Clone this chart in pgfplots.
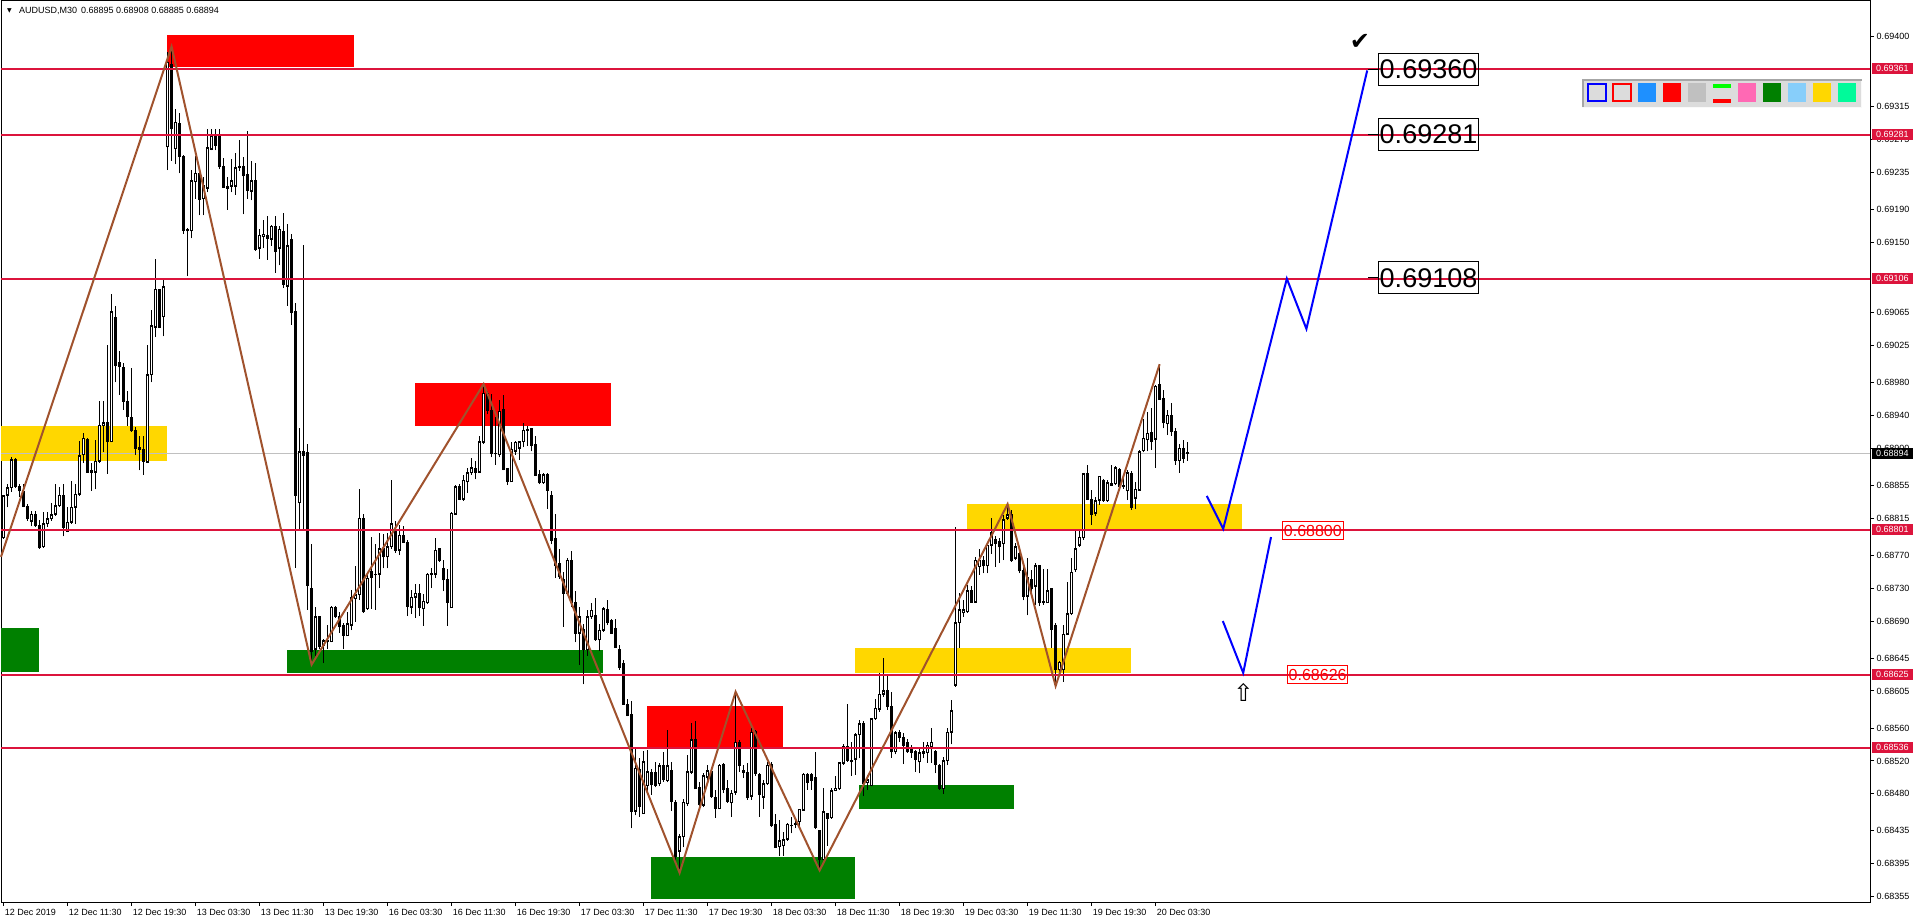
\documentclass[border=0pt]{standalone}
\usepackage{pgfplots}
\pgfplotsset{compat=1.18}
\usepackage{pgfplotstable}
\usepackage{fontspec}
\setmainfont{Liberation Sans}
\newfontfamily\dejavu{DejaVu Sans}
\definecolor{crimson}{RGB}{220,20,60}
\definecolor{sienna}{RGB}{160,82,45}
\definecolor{gold}{RGB}{255,215,0}
\definecolor{mtgreen}{RGB}{0,128,0}
\definecolor{mtred}{RGB}{255,0,0}
\definecolor{mtblue}{RGB}{0,0,255}
\definecolor{silver}{RGB}{192,192,192}
\definecolor{dodger}{RGB}{30,144,255}
\definecolor{hotpink}{RGB}{255,105,180}
\definecolor{skyblue}{RGB}{135,206,250}
\definecolor{springgreen}{RGB}{0,250,154}
\definecolor{mtlime}{RGB}{0,255,0}
\definecolor{panel}{RGB}{220,220,220}
\newcommand{\tf}{\fontsize{9bp}{10bp}\selectfont}

\pgfplotstableread{
k O H L C
0 0.68791 0.68843 0.68790 0.68842
1 0.68843 0.68856 0.68828 0.68852
2 0.68852 0.68889 0.68847 0.68886
3 0.68886 0.68888 0.68852 0.68854
4 0.68854 0.68856 0.68841 0.68848
5 0.68848 0.68856 0.68828 0.68829
6 0.68829 0.68832 0.68812 0.68814
7 0.68811 0.68824 0.68805 0.68820
8 0.68820 0.68824 0.68804 0.68806
9 0.68806 0.68813 0.68778 0.68779
10 0.68780 0.68822 0.68779 0.68808
11 0.68808 0.68822 0.68804 0.68814
12 0.68814 0.68834 0.68812 0.68819
13 0.68820 0.68856 0.68818 0.68830
14 0.68830 0.68853 0.68829 0.68843
15 0.68843 0.68856 0.68793 0.68804
16 0.68799 0.68828 0.68798 0.68810
17 0.68810 0.68860 0.68808 0.68828
18 0.68828 0.68856 0.68808 0.68844
19 0.68844 0.68909 0.68842 0.68891
20 0.68892 0.68919 0.68882 0.68912
21 0.68911 0.68912 0.68871 0.68871
22 0.68873 0.68882 0.68848 0.68871
23 0.68871 0.68910 0.68850 0.68884
24 0.68884 0.68957 0.68882 0.68928
25 0.68928 0.68957 0.68895 0.68931
26 0.68931 0.69025 0.68869 0.68908
27 0.68908 0.69087 0.68907 0.69066
28 0.69059 0.69073 0.68980 0.69000
29 0.69004 0.69018 0.68965 0.68999
30 0.68998 0.69004 0.68947 0.68957
31 0.68957 0.68969 0.68927 0.68938
32 0.68937 0.68997 0.68920 0.68921
33 0.68921 0.68926 0.68892 0.68900
34 0.68901 0.68915 0.68873 0.68899
35 0.68898 0.68915 0.68868 0.68884
36 0.68883 0.69025 0.68882 0.68989
37 0.68989 0.69068 0.68980 0.69049
38 0.69047 0.69130 0.69035 0.69093
39 0.69093 0.69094 0.69046 0.69047
40 0.69060 0.69106 0.69036 0.69096
41 0.69266 0.69381 0.69238 0.69369
42 0.69366 0.69388 0.69249 0.69288
43 0.69264 0.69312 0.69245 0.69296
44 0.69294 0.69307 0.69234 0.69255
45 0.69255 0.69256 0.69160 0.69165
46 0.69166 0.69167 0.69109 0.69164
47 0.69164 0.69238 0.69155 0.69225
48 0.69224 0.69255 0.69203 0.69234
49 0.69234 0.69235 0.69183 0.69202
50 0.69203 0.69229 0.69183 0.69219
51 0.69216 0.69288 0.69211 0.69265
52 0.69263 0.69288 0.69262 0.69279
53 0.69281 0.69288 0.69262 0.69268
54 0.69279 0.69288 0.69239 0.69242
55 0.69242 0.69253 0.69216 0.69217
56 0.69218 0.69229 0.69190 0.69216
57 0.69218 0.69251 0.69211 0.69225
58 0.69218 0.69259 0.69208 0.69241
59 0.69242 0.69275 0.69237 0.69241
60 0.69242 0.69254 0.69184 0.69231
61 0.69232 0.69285 0.69203 0.69213
62 0.69212 0.69249 0.69201 0.69225
63 0.69225 0.69247 0.69140 0.69142
64 0.69143 0.69166 0.69130 0.69159
65 0.69157 0.69177 0.69143 0.69160
66 0.69159 0.69182 0.69129 0.69155
67 0.69154 0.69171 0.69146 0.69170
68 0.69170 0.69182 0.69113 0.69139
69 0.69143 0.69170 0.69122 0.69166
70 0.69163 0.69186 0.69095 0.69099
71 0.69097 0.69172 0.69073 0.69146
72 0.69153 0.69160 0.69050 0.69065
73 0.69066 0.69077 0.68755 0.68843
74 0.68834 0.68925 0.68800 0.68896
75 0.68896 0.69147 0.68800 0.68891
76 0.68895 0.68905 0.68704 0.68733
77 0.68729 0.68784 0.68637 0.68653
78 0.68656 0.68707 0.68648 0.68695
79 0.68695 0.68696 0.68656 0.68659
80 0.68660 0.68668 0.68639 0.68666
81 0.68665 0.68685 0.68656 0.68666
82 0.68665 0.68708 0.68664 0.68707
83 0.68707 0.68708 0.68694 0.68695
84 0.68695 0.68701 0.68676 0.68683
85 0.68685 0.68687 0.68656 0.68673
86 0.68672 0.68701 0.68672 0.68687
87 0.68685 0.68728 0.68679 0.68718
88 0.68717 0.68757 0.68689 0.68722
89 0.68722 0.68851 0.68716 0.68815
90 0.68815 0.68820 0.68700 0.68701
91 0.68705 0.68747 0.68704 0.68742
92 0.68750 0.68792 0.68705 0.68743
93 0.68746 0.68783 0.68704 0.68747
94 0.68747 0.68797 0.68730 0.68778
95 0.68778 0.68796 0.68754 0.68768
96 0.68768 0.68797 0.68754 0.68780
97 0.68780 0.68861 0.68778 0.68808
98 0.68800 0.68812 0.68773 0.68776
99 0.68776 0.68807 0.68770 0.68794
100 0.68794 0.68805 0.68785 0.68786
101 0.68786 0.68788 0.68696 0.68708
102 0.68707 0.68728 0.68699 0.68719
103 0.68719 0.68735 0.68694 0.68724
104 0.68724 0.68735 0.68696 0.68706
105 0.68705 0.68723 0.68684 0.68714
106 0.68712 0.68748 0.68711 0.68747
107 0.68746 0.68754 0.68730 0.68748
108 0.68747 0.68791 0.68742 0.68776
109 0.68778 0.68779 0.68762 0.68764
110 0.68754 0.68764 0.68726 0.68740
111 0.68741 0.68753 0.68684 0.68713
112 0.68706 0.68822 0.68706 0.68821
113 0.68820 0.68855 0.68819 0.68853
114 0.68853 0.68857 0.68837 0.68838
115 0.68838 0.68867 0.68836 0.68861
116 0.68859 0.68876 0.68846 0.68870
117 0.68870 0.68888 0.68868 0.68876
118 0.68875 0.68884 0.68862 0.68871
119 0.68871 0.68915 0.68870 0.68908
120 0.68907 0.68978 0.68905 0.68967
121 0.68967 0.68970 0.68941 0.68946
122 0.68946 0.68966 0.68889 0.68894
123 0.68894 0.68938 0.68880 0.68893
124 0.68892 0.68958 0.68889 0.68945
125 0.68947 0.68965 0.68873 0.68874
126 0.68875 0.68876 0.68855 0.68860
127 0.68859 0.68907 0.68859 0.68899
128 0.68896 0.68909 0.68892 0.68907
129 0.68900 0.68909 0.68886 0.68908
130 0.68908 0.68931 0.68901 0.68922
131 0.68922 0.68927 0.68903 0.68923
132 0.68924 0.68925 0.68896 0.68903
133 0.68905 0.68915 0.68866 0.68867
134 0.68868 0.68874 0.68856 0.68858
135 0.68858 0.68870 0.68857 0.68868
136 0.68868 0.68870 0.68826 0.68849
137 0.68843 0.68848 0.68783 0.68788
138 0.68790 0.68820 0.68742 0.68757
139 0.68760 0.68777 0.68741 0.68744
140 0.68741 0.68749 0.68683 0.68724
141 0.68724 0.68766 0.68722 0.68764
142 0.68763 0.68775 0.68707 0.68712
143 0.68712 0.68727 0.68664 0.68675
144 0.68675 0.68707 0.68637 0.68695
145 0.68680 0.68687 0.68613 0.68655
146 0.68655 0.68703 0.68648 0.68695
147 0.68695 0.68712 0.68693 0.68703
148 0.68697 0.68718 0.68666 0.68668
149 0.68667 0.68686 0.68654 0.68679
150 0.68679 0.68707 0.68677 0.68705
151 0.68704 0.68716 0.68685 0.68688
152 0.68691 0.68693 0.68674 0.68675
153 0.68681 0.68693 0.68657 0.68658
154 0.68656 0.68661 0.68631 0.68634
155 0.68638 0.68643 0.68588 0.68589
156 0.68589 0.68595 0.68574 0.68575
157 0.68577 0.68593 0.68438 0.68459
158 0.68459 0.68535 0.68454 0.68511
159 0.68510 0.68523 0.68452 0.68465
160 0.68456 0.68532 0.68456 0.68519
161 0.68490 0.68533 0.68479 0.68507
162 0.68506 0.68510 0.68479 0.68491
163 0.68506 0.68519 0.68488 0.68490
164 0.68492 0.68518 0.68489 0.68514
165 0.68515 0.68531 0.68495 0.68498
166 0.68496 0.68558 0.68494 0.68514
167 0.68508 0.68519 0.68459 0.68471
168 0.68470 0.68473 0.68393 0.68404
169 0.68410 0.68431 0.68384 0.68428
170 0.68428 0.68474 0.68415 0.68470
171 0.68468 0.68527 0.68465 0.68507
172 0.68506 0.68566 0.68504 0.68546
173 0.68546 0.68568 0.68486 0.68486
174 0.68488 0.68495 0.68462 0.68467
175 0.68466 0.68505 0.68464 0.68502
176 0.68500 0.68515 0.68497 0.68508
177 0.68507 0.68509 0.68475 0.68477
178 0.68476 0.68485 0.68451 0.68462
179 0.68462 0.68516 0.68461 0.68515
180 0.68516 0.68517 0.68481 0.68485
181 0.68486 0.68497 0.68469 0.68471
182 0.68469 0.68485 0.68452 0.68481
183 0.68482 0.68604 0.68479 0.68543
184 0.68543 0.68545 0.68507 0.68514
185 0.68508 0.68515 0.68499 0.68506
186 0.68506 0.68517 0.68473 0.68475
187 0.68477 0.68560 0.68473 0.68555
188 0.68556 0.68558 0.68502 0.68505
189 0.68504 0.68505 0.68452 0.68479
190 0.68476 0.68497 0.68462 0.68492
191 0.68492 0.68519 0.68491 0.68515
192 0.68516 0.68519 0.68440 0.68441
193 0.68443 0.68456 0.68414 0.68415
194 0.68416 0.68448 0.68404 0.68423
195 0.68417 0.68434 0.68405 0.68424
196 0.68425 0.68444 0.68423 0.68443
197 0.68441 0.68452 0.68432 0.68442
198 0.68443 0.68450 0.68438 0.68444
199 0.68446 0.68462 0.68438 0.68461
200 0.68460 0.68505 0.68460 0.68504
201 0.68503 0.68505 0.68485 0.68494
202 0.68503 0.68505 0.68485 0.68496
203 0.68500 0.68531 0.68437 0.68439
204 0.68435 0.68436 0.68387 0.68400
205 0.68400 0.68487 0.68400 0.68458
206 0.68456 0.68457 0.68417 0.68450
207 0.68451 0.68487 0.68450 0.68484
208 0.68484 0.68502 0.68483 0.68487
209 0.68486 0.68519 0.68485 0.68518
210 0.68517 0.68541 0.68515 0.68537
211 0.68537 0.68589 0.68519 0.68521
212 0.68521 0.68543 0.68502 0.68519
213 0.68522 0.68554 0.68503 0.68552
214 0.68552 0.68570 0.68523 0.68565
215 0.68565 0.68568 0.68477 0.68493
216 0.68494 0.68503 0.68485 0.68497
217 0.68490 0.68572 0.68489 0.68571
218 0.68571 0.68595 0.68570 0.68584
219 0.68583 0.68627 0.68580 0.68601
220 0.68601 0.68645 0.68598 0.68605
221 0.68605 0.68624 0.68582 0.68586
222 0.68586 0.68604 0.68524 0.68531
223 0.68531 0.68556 0.68528 0.68554
224 0.68554 0.68558 0.68543 0.68549
225 0.68548 0.68554 0.68516 0.68539
226 0.68542 0.68547 0.68530 0.68531
227 0.68534 0.68539 0.68524 0.68530
228 0.68532 0.68533 0.68507 0.68522
229 0.68519 0.68537 0.68505 0.68530
230 0.68529 0.68543 0.68523 0.68531
231 0.68530 0.68543 0.68518 0.68539
232 0.68537 0.68560 0.68518 0.68543
233 0.68531 0.68533 0.68505 0.68516
234 0.68514 0.68516 0.68485 0.68486
235 0.68486 0.68525 0.68480 0.68520
236 0.68520 0.68560 0.68515 0.68555
237 0.68555 0.68594 0.68540 0.68581
238 0.68612 0.68804 0.68610 0.68688
239 0.68688 0.68724 0.68657 0.68704
240 0.68700 0.68716 0.68695 0.68704
241 0.68701 0.68734 0.68700 0.68727
242 0.68727 0.68732 0.68712 0.68713
243 0.68713 0.68768 0.68712 0.68764
244 0.68756 0.68777 0.68746 0.68764
245 0.68764 0.68769 0.68748 0.68757
246 0.68757 0.68784 0.68748 0.68782
247 0.68782 0.68815 0.68772 0.68797
248 0.68789 0.68793 0.68756 0.68784
249 0.68787 0.68791 0.68761 0.68780
250 0.68784 0.68819 0.68764 0.68813
251 0.68815 0.68832 0.68813 0.68819
252 0.68819 0.68825 0.68762 0.68763
253 0.68766 0.68785 0.68764 0.68780
254 0.68772 0.68778 0.68748 0.68751
255 0.68752 0.68756 0.68715 0.68720
256 0.68720 0.68766 0.68697 0.68743
257 0.68741 0.68752 0.68720 0.68730
258 0.68732 0.68761 0.68710 0.68757
259 0.68757 0.68758 0.68708 0.68712
260 0.68714 0.68753 0.68710 0.68712
261 0.68712 0.68753 0.68712 0.68727
262 0.68729 0.68730 0.68657 0.68680
263 0.68685 0.68687 0.68611 0.68631
264 0.68631 0.68641 0.68627 0.68640
265 0.68631 0.68685 0.68616 0.68674
266 0.68674 0.68737 0.68673 0.68699
267 0.68699 0.68766 0.68697 0.68749
268 0.68752 0.68801 0.68750 0.68778
269 0.68782 0.68802 0.68780 0.68792
270 0.68791 0.68870 0.68789 0.68869
271 0.68869 0.68880 0.68837 0.68838
272 0.68838 0.68849 0.68807 0.68820
273 0.68821 0.68841 0.68818 0.68836
274 0.68837 0.68866 0.68831 0.68866
275 0.68861 0.68862 0.68835 0.68836
276 0.68836 0.68861 0.68835 0.68858
277 0.68855 0.68880 0.68854 0.68857
278 0.68857 0.68878 0.68855 0.68876
279 0.68874 0.68876 0.68849 0.68854
280 0.68855 0.68868 0.68851 0.68853
281 0.68848 0.68873 0.68837 0.68870
282 0.68869 0.68872 0.68825 0.68828
283 0.68839 0.68859 0.68826 0.68850
284 0.68849 0.68898 0.68848 0.68896
285 0.68897 0.68936 0.68895 0.68912
286 0.68910 0.68944 0.68896 0.68918
287 0.68919 0.68949 0.68898 0.68908
288 0.68911 0.68977 0.68876 0.68975
289 0.68977 0.69002 0.68959 0.68959
290 0.68961 0.68971 0.68924 0.68931
291 0.68930 0.68947 0.68916 0.68940
292 0.68940 0.68955 0.68915 0.68920
293 0.68920 0.68925 0.68880 0.68885
294 0.68885 0.68905 0.68870 0.68900
295 0.68900 0.68910 0.68882 0.68888
296 0.68895 0.68908 0.68885 0.68894
}\candles

\begin{document}
\begin{tikzpicture}
\path[use as bounding box] (0,0) rectangle (1916bp,923bp);
\begin{axis}[
  at={(1bp,21bp)}, anchor=south west,
  scale only axis, width=1869bp, height=901bp,
  xmin=-0.65, xmax=466.6, ymin=0.683486, ymax=0.694434,
  clip=false,
  axis line style={line width=1bp, black},
  every tick/.style={black, line width=1bp},
  tick align=outside,
  major tick length=4bp,
  xtick={0,16,...,288},
  xticklabels={12 Dec 2019,12 Dec 11:30,12 Dec 19:30,13 Dec 03:30,13 Dec 11:30,13 Dec 19:30,16 Dec 03:30,16 Dec 11:30,16 Dec 19:30,17 Dec 03:30,17 Dec 11:30,17 Dec 19:30,18 Dec 03:30,18 Dec 11:30,18 Dec 19:30,19 Dec 03:30,19 Dec 11:30,19 Dec 19:30,20 Dec 03:30},
  xtick pos=left, xticklabel pos=left,
  xticklabel style={font=\tf, anchor=north west, inner sep=0pt, xshift=1bp, yshift=-3bp},
  ytick={0.69400,0.69315,0.69275,0.69235,0.69190,0.69150,0.69065,0.69025,0.68980,0.68940,0.68900,0.68855,0.68815,0.68770,0.68730,0.68690,0.68645,0.68605,0.68560,0.68520,0.68480,0.68435,0.68395,0.68355},
  yticklabels={0.69400,0.69315,0.69275,0.69235,0.69190,0.69150,0.69065,0.69025,0.68980,0.68940,0.68900,0.68855,0.68815,0.68770,0.68730,0.68690,0.68645,0.68605,0.68560,0.68520,0.68480,0.68435,0.68395,0.68355},
  ytick pos=right, yticklabel pos=right,
  yticklabel style={font=\tf, anchor=west, inner sep=0pt, xshift=2.5bp},
  scaled y ticks=false,
]
% rectangles
\addplot[fill=mtred, draw=none, forget plot] coordinates {(40.85,0.69363) (87.6,0.69363) (87.6,0.69402) (40.85,0.69402)} --cycle;
\addplot[fill=gold, draw=none, forget plot] coordinates {(-0.65,0.68885) (40.8,0.68885) (40.8,0.68927) (-0.65,0.68927)} --cycle;
\addplot[fill=mtgreen, draw=none, forget plot] coordinates {(-0.65,0.68628) (8.85,0.68628) (8.85,0.68681) (-0.65,0.68681)} --cycle;
\addplot[fill=mtred, draw=none, forget plot] coordinates {(102.85,0.68927) (151.85,0.68927) (151.85,0.68979) (102.85,0.68979)} --cycle;
\addplot[fill=mtgreen, draw=none, forget plot] coordinates {(70.9,0.68627) (149.8,0.68627) (149.8,0.68655) (70.9,0.68655)} --cycle;
\addplot[fill=mtred, draw=none, forget plot] coordinates {(160.85,0.68535) (194.8,0.68535) (194.8,0.68587) (160.85,0.68587)} --cycle;
\addplot[fill=mtgreen, draw=none, forget plot] coordinates {(161.85,0.68352) (212.85,0.68352) (212.85,0.68403) (161.85,0.68403)} --cycle;
\addplot[fill=mtgreen, draw=none, forget plot] coordinates {(213.85,0.68462) (252.6,0.68462) (252.6,0.68491) (213.85,0.68491)} --cycle;
\addplot[fill=gold, draw=none, forget plot] coordinates {(212.85,0.68627) (281.85,0.68627) (281.85,0.68657) (212.85,0.68657)} --cycle;
\addplot[fill=gold, draw=none, forget plot] coordinates {(240.85,0.68802) (309.5,0.68802) (309.5,0.68832) (240.85,0.68832)} --cycle;
% bid line
\addplot[silver, line width=1bp, forget plot] coordinates {(-0.65,0.68894) (466.6,0.68894)};
% candles: wicks
\addplot[draw=none, mark=none, forget plot,
  error bars/.cd, y dir=plus, y explicit, error mark=none,
  error bar style={draw=black, solid, line width=1bp}]
  table[x=k, y=L, y error expr=\thisrow{H}-\thisrow{L}] {\candles};
% bodies
\addplot[draw=none, mark=none, forget plot,
  error bars/.cd, y dir=plus, y explicit, error mark=none,
  error bar style={draw=black, solid, line width=3bp}]
  table[x=k, y expr={min(\thisrow{O},\thisrow{C})-0.000006}, y error expr={abs(\thisrow{C}-\thisrow{O})+0.000012}] {\candles};
% white inside of rising candles
\addplot[draw=none, mark=none, forget plot,
  restrict expr to domain={\thisrow{C}-\thisrow{O}}{0.000025:1},
  error bars/.cd, y dir=plus, y explicit, error mark=none,
  error bar style={draw=white, solid, line width=1bp}]
  table[x=k, y expr={\thisrow{O}+0.0000122}, y error expr={\thisrow{C}-\thisrow{O}-0.0000244}] {\candles};
% horizontal levels
\addplot[crimson, line width=2bp, forget plot] coordinates {(-0.65,0.69361) (466.6,0.69361)};
\addplot[crimson, line width=2bp, forget plot] coordinates {(-0.65,0.69281) (466.6,0.69281)};
\addplot[crimson, line width=2bp, forget plot] coordinates {(-0.65,0.69106) (466.6,0.69106)};
\addplot[crimson, line width=2bp, forget plot] coordinates {(-0.65,0.68801) (466.6,0.68801)};
\addplot[crimson, line width=2bp, forget plot] coordinates {(-0.65,0.68625) (466.6,0.68625)};
\addplot[crimson, line width=2bp, forget plot] coordinates {(-0.65,0.68536) (466.6,0.68536)};
% zigzag
\addplot[sienna, line width=2bp, forget plot] coordinates {(-0.65,0.68768) (42,0.69388) (77,0.68637) (120,0.68978) (169,0.68384) (183,0.68604) (204,0.68387) (251,0.68832) (263,0.68611) (289,0.69002)};
% projections
\addplot[mtblue, line width=2bp, forget plot] coordinates {(300.8,0.68842) (304.9,0.68802) (320.8,0.69106) (325.7,0.69045) (340.9,0.69359)};
\addplot[mtblue, line width=2bp, forget plot] coordinates {(304.8,0.68690) (309.9,0.68627) (316.85,0.68792)};
% labels
\draw[black, line width=1bp] (axis cs:341.1,0.69360) -- (axis cs:343.6,0.69360);
\draw[black, line width=1bp] (axis cs:341.1,0.69281) -- (axis cs:343.6,0.69281);
\draw[black, line width=1bp] (axis cs:341.1,0.69107) -- (axis cs:343.6,0.69107);
\node[draw=black, line width=1bp, anchor=west, inner xsep=1.2bp, inner ysep=0pt, minimum height=32bp, font=\fontsize{27bp}{30bp}\selectfont] at (axis cs:343.6,0.69360) {0.69360};
\node[draw=black, line width=1bp, anchor=west, inner xsep=1.2bp, inner ysep=0pt, minimum height=32bp, font=\fontsize{27bp}{30bp}\selectfont] at (axis cs:343.6,0.69281) {0.69281};
\node[draw=black, line width=1bp, anchor=west, inner xsep=1.2bp, inner ysep=0pt, minimum height=32bp, font=\fontsize{27bp}{30bp}\selectfont] at (axis cs:343.6,0.69107) {0.69108};
\node[draw=mtred, text=mtred, line width=1bp, anchor=west, inner xsep=1.4bp, inner ysep=0pt, minimum height=17.6bp, font=\fontsize{16bp}{18bp}\selectfont] at (axis cs:319.6,0.68800) {0.68800};
\node[draw=mtred, text=mtred, line width=1bp, anchor=west, inner xsep=1.4bp, inner ysep=0pt, minimum height=17.6bp, font=\fontsize{16bp}{18bp}\selectfont] at (axis cs:320.8,0.68625) {0.68626};
\node[font=\dejavu\fontsize{24bp}{26bp}\selectfont, inner sep=0pt] at (axis cs:339.1,0.69394) {✔};
\node[font=\dejavu\fontsize{24bp}{26bp}\selectfont, inner sep=0pt] at (axis cs:309.97,0.68603) {⇧};
% anchors for price labels
\coordinate (p1) at (axis cs:466.6,0.69361);
\coordinate (p2) at (axis cs:466.6,0.69281);
\coordinate (p3) at (axis cs:466.6,0.69106);
\coordinate (p4) at (axis cs:466.6,0.68801);
\coordinate (p5) at (axis cs:466.6,0.68625);
\coordinate (p6) at (axis cs:466.6,0.68536);
\coordinate (pb) at (axis cs:466.6,0.68894);
\end{axis}
% right price labels
\tikzset{plab/.style={anchor=west, fill=crimson, text=white, font=\tf, inner xsep=0pt, inner ysep=0pt, minimum width=41bp, minimum height=11bp}}
\node[plab] at ([xshift=1.7bp]p1) {0.69361};
\node[plab] at ([xshift=1.7bp]p2) {0.69281};
\node[plab] at ([xshift=1.7bp]p3) {0.69106};
\node[plab] at ([xshift=1.7bp]p4) {0.68801};
\node[plab] at ([xshift=1.7bp]p5) {0.68625};
\node[plab] at ([xshift=1.7bp]p6) {0.68536};
\node[plab, fill=black] at ([xshift=1.7bp]pb) {0.68894};
% header
\node[anchor=base west, inner sep=0pt, font=\dejavu\fontsize{6bp}{7bp}\selectfont] at (7bp,910bp) {▼};
\node[anchor=base west, inner sep=0pt, font=\tf] at (19bp,909bp) {AUDUSD,M30\hspace{4bp}0.68895 0.68908 0.68885 0.68894};
% colour palette
\fill[panel] (1582bp,815bp) rectangle (1862bp,844bp);
\draw[gray!70, line width=2bp] (1583bp,815bp) -- (1583bp,843bp) -- (1862bp,843bp);
\draw[white!95!gray, line width=1bp] (1582bp,815.5bp) -- (1861.5bp,815.5bp) -- (1861.5bp,842bp);
\filldraw[fill=panel, draw=mtblue, line width=2bp] (1588.2bp,822bp) rectangle (1606bp,838.7bp);
\filldraw[fill=panel, draw=mtred, line width=2bp] (1613.1bp,822bp) rectangle (1631bp,838.7bp);
\fill[dodger] (1637.7bp,821bp) rectangle (1656.1bp,839.7bp);
\fill[mtred] (1662.6bp,821bp) rectangle (1681bp,839.7bp);
\fill[silver] (1687.5bp,821bp) rectangle (1706bp,839.7bp);
\fill[mtlime] (1712.8bp,835.3bp) rectangle (1730.9bp,838.7bp);
\fill[mtred] (1712.8bp,820.3bp) rectangle (1730.9bp,824bp);
\fill[hotpink] (1737.7bp,821bp) rectangle (1755.8bp,839.7bp);
\fill[mtgreen] (1762.6bp,821bp) rectangle (1781bp,839.7bp);
\fill[skyblue] (1787.5bp,821bp) rectangle (1806bp,839.7bp);
\fill[gold] (1812.8bp,821bp) rectangle (1831.2bp,839.7bp);
\fill[springgreen] (1837.7bp,821bp) rectangle (1856.1bp,839.7bp);
\end{tikzpicture}
\end{document}
